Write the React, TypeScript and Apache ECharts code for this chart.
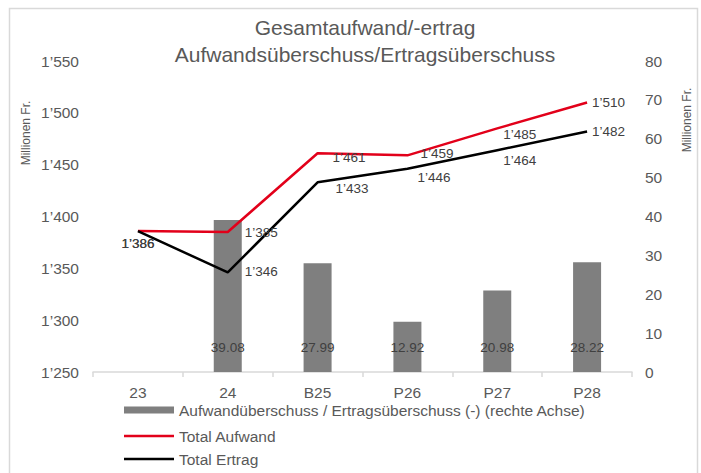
import React, { useEffect, useRef } from "react";
import * as echarts from "echarts";

const categories = ["23", "24", "B25", "P26", "P27", "P28"];
const surplus: (number | null)[] = [null, 39.08, 27.99, 12.92, 20.98, 28.22];
const totalAufwand = [1386, 1385, 1461, 1459, 1485, 1510];
const totalErtrag = [1386, 1346, 1433, 1446, 1464, 1482];

const titleLines = ["Gesamtaufwand/-ertrag", "Aufwandsüberschuss/Ertragsüberschuss"];
const seriesNames = [
  "Aufwandüberschuss / Ertragsüberschuss (-) (rechte Achse)",
  "Total Aufwand",
  "Total Ertrag",
];
const axisName = "Millionen Fr.";

// label placement tweaks (style only)
const aufwandLabelOffsets = [[0, 0], [12, 0], [10, 4], [8, -2], [1, 6], [0, 0]];
const ertragLabelOffsets = [[0, 0], [12, -1], [13, 6], [5, 9], [1, 10], [0, 0]];

const TEXT = "#595959";
const LABEL = "#404040";
const FONT = "Liberation Sans, Arial, sans-serif";

const fmt = (v: number) => {
  const s = Math.round(v).toString();
  return s.length > 3 ? s.slice(0, s.length - 3) + "\u2019" + s.slice(s.length - 3) : s;
};

function lineData(values: number[], offsets: number[][]) {
  return values.map((v, i) => ({
    value: v,
    label:
      i === 0
        ? { position: "bottom", distance: 5 }
        : { position: "right", distance: 5, offset: offsets[i] },
  }));
}

export default function App() {
  const ref = useRef<HTMLDivElement>(null);
  useEffect(() => {
    if (!ref.current) return;
    const chart = echarts.init(ref.current, undefined, { renderer: "svg" });
    chart.setOption({
      animation: false,
      textStyle: { fontFamily: FONT },
      title: {
        text: titleLines.join("\n"),
        left: 360,
        textAlign: "center",
        top: 9,
        textStyle: { fontSize: 21, fontWeight: "normal", color: TEXT, lineHeight: 27, fontFamily: FONT },
      },
      graphic: [
        {
          type: "rect",
          shape: { x: 9.5, y: 8.5, width: 688, height: 480 },
          style: { fill: "none", stroke: "#d9d9d9", lineWidth: 1.5 },
          silent: true,
        },
        {
          type: "text",
          x: 26,
          y: 133,
          rotation: Math.PI / 2,
          style: { text: axisName, fill: TEXT, fontSize: 12, fontFamily: FONT, align: "center", verticalAlign: "middle" },
        },
        {
          type: "text",
          x: 687,
          y: 120,
          rotation: Math.PI / 2,
          style: { text: axisName, fill: TEXT, fontSize: 12, fontFamily: FONT, align: "center", verticalAlign: "middle" },
        },
      ],
      legend: [
        {
          orient: "vertical",
          left: 124,
          top: 402,
          padding: 0,
          itemWidth: 50,
          itemHeight: 7,
          icon: "rect",
          data: [seriesNames[0]],
          textStyle: { color: TEXT, fontSize: 15.5, fontFamily: FONT },
        },
        {
          orient: "vertical",
          left: 124,
          top: 428,
          padding: 0,
          itemWidth: 50,
          itemHeight: 2.5,
          itemGap: 7,
          icon: "rect",
          data: [seriesNames[1], seriesNames[2]],
          textStyle: { color: TEXT, fontSize: 15.5, fontFamily: FONT },
        },
      ],
      grid: { left: 93, right: 69, top: 61, bottom: 101 },
      xAxis: {
        type: "category",
        data: categories,
        boundaryGap: true,
        axisLine: { lineStyle: { color: "#d9d9d9", width: 1.5 } },
        axisTick: { show: true, length: 5, lineStyle: { color: "#d9d9d9", width: 1.5 } },
        axisLabel: { color: TEXT, fontSize: 15.5, margin: 12, fontFamily: FONT },
      },
      yAxis: [
        {
          type: "value",
          min: 1250,
          max: 1550,
          interval: 50,
          splitLine: { show: false },
          axisLine: { show: false },
          axisTick: { show: false },
          axisLabel: { color: TEXT, fontSize: 15.5, margin: 14, formatter: fmt, fontFamily: FONT },
        },
        {
          type: "value",
          min: 0,
          max: 80,
          interval: 10,
          splitLine: { show: false },
          axisLine: { show: false },
          axisTick: { show: false },
          axisLabel: { color: TEXT, fontSize: 15.5, margin: 13, fontFamily: FONT },
        },
      ],
      series: [
        {
          name: seriesNames[0],
          type: "bar",
          yAxisIndex: 1,
          data: surplus,
          barWidth: 28,
          itemStyle: { color: "#7f7f7f" },
          label: {
            show: true,
            position: "insideBottom",
            distance: 18,
            color: LABEL,
            fontSize: 13.5,
            fontFamily: FONT,
            formatter: (p: any) => (p.value == null ? "" : Number(p.value).toFixed(2)),
          },
        },
        {
          name: seriesNames[1],
          type: "line",
          data: lineData(totalAufwand, aufwandLabelOffsets),
          symbol: "circle",
          symbolSize: 0.01,
          showSymbol: true,
          lineStyle: { color: "#e2001a", width: 2.5 },
          itemStyle: { color: "#e2001a" },
          label: { show: true, color: LABEL, fontSize: 13.5, fontFamily: FONT, formatter: (p: any) => fmt(p.value) },
        },
        {
          name: seriesNames[2],
          type: "line",
          data: lineData(totalErtrag, ertragLabelOffsets),
          symbol: "circle",
          symbolSize: 0.01,
          showSymbol: true,
          lineStyle: { color: "#000000", width: 2.5 },
          itemStyle: { color: "#000000" },
          label: { show: true, color: LABEL, fontSize: 13.5, fontFamily: FONT, formatter: (p: any) => fmt(p.value) },
        },
      ],
    });
    return () => chart.dispose();
  }, []);
  return (
    <div
      ref={ref}
      style={{ position: "absolute", left: 0, top: 0, width: 701, height: 473, background: "#fff" }}
    />
  );
}
